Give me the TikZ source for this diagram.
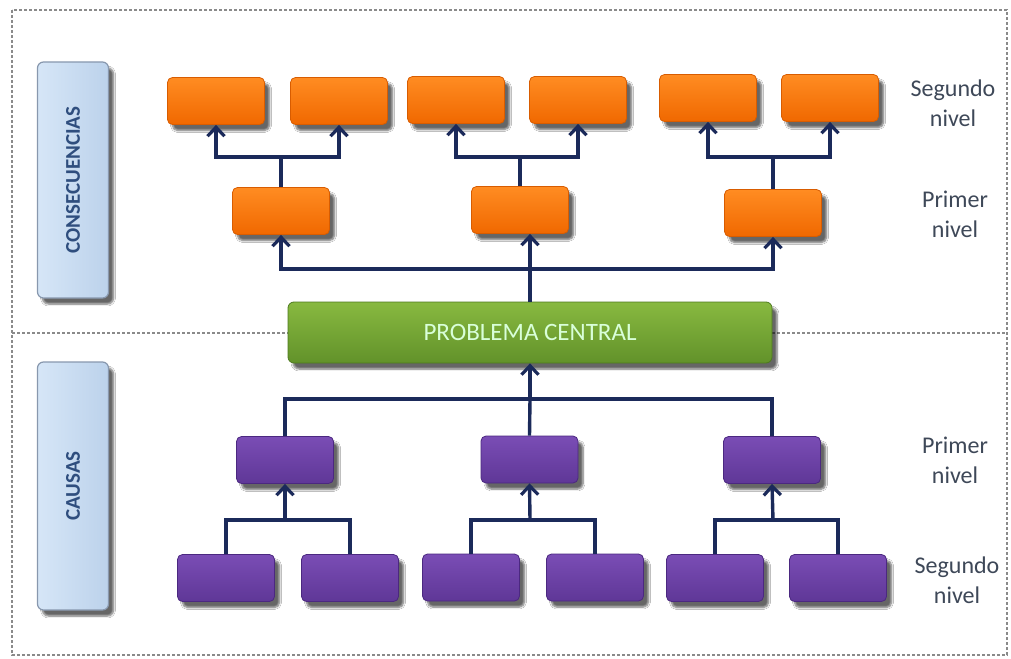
\documentclass[tikz,border=0pt]{standalone}
\usepackage{fontspec}
\setmainfont{Carlito}
\usetikzlibrary{arrows.meta,shadows.blur}

\definecolor{navy}{HTML}{1B2A5A}
\definecolor{orangeT}{HTML}{FF8C22}
\definecolor{orangeB}{HTML}{F06800}
\definecolor{orangeE}{HTML}{D85C00}
\definecolor{purpleT}{HTML}{7A4DB5}
\definecolor{purpleB}{HTML}{5F3797}
\definecolor{purpleE}{HTML}{4B2880}
\definecolor{greenT}{HTML}{88B940}
\definecolor{greenB}{HTML}{62922A}
\definecolor{greenE}{HTML}{4D7A1E}
\definecolor{sideT}{HTML}{D6E6F7}
\definecolor{sideB}{HTML}{BCD2EB}
\definecolor{sideE}{HTML}{8898AE}
\definecolor{sideTxt}{HTML}{2F4E7E}
\definecolor{lblTxt}{HTML}{3E4858}
\definecolor{frameC}{HTML}{8A8A8A}

\tikzset{
  shade/.style={blur shadow={shadow xshift=5pt,shadow yshift=-6pt,shadow blur steps=6,shadow opacity=60}},
  box/.style={rounded corners=5pt,minimum width=97pt,minimum height=47pt,inner sep=0pt,line width=0.8pt,shade},
  consbox/.style={box,top color=orangeT,bottom color=orangeB,draw=orangeE},
  causebox/.style={box,top color=purpleT,bottom color=purpleB,draw=purpleE},
  centralbox/.style={rounded corners=6pt,minimum width=484pt,minimum height=61pt,inner sep=0pt,
    top color=greenT,bottom color=greenB,draw=greenE,line width=0.8pt,shade,
    text=white!85!green,font=\fontsize{25}{28}\selectfont},
  sidebox/.style={rounded corners=6pt,minimum width=71pt,inner sep=0pt,
    left color=sideT,right color=sideB,draw=sideE,line width=1.2pt,shade},
  sidetext/.style={rotate=90,text=sideTxt,font=\bfseries\fontsize{21}{24}\selectfont},
  lvl/.style={align=center,text=lblTxt,font=\fontsize{24}{30}\selectfont},
  link/.style={draw=navy,line width=3.4pt},
  arrow/.style={link,-{Straight Barb[length=9pt,width=17pt,line width=3.2pt]}},
  frame/.style={draw=frameC,line width=1.5pt,dash pattern=on 3pt off 2pt}
}

\begin{document}
\begin{tikzpicture}[x=1pt,y=-1pt]
  \useasboundingbox (0,0) rectangle (1011,658);
  \fill[white] (0,0) rectangle (1011,658);

  % outer frame and the divider between consequences and causes
  \draw[frame] (12,10) rectangle (1007,655);
  \draw[frame] (12,333) -- (1007,333);

  % side captions
  \node[sidebox,minimum height=236pt] (sideC) at (73,180) {};
  \node[sidetext] (sideCt) at (sideC) {CONSECUENCIAS};
  \node[sidebox,minimum height=248pt] (sideK) at (73,486) {};
  \node[sidetext] (sideKt) at (sideK) {CAUSAS};

  % central problem
  \node[centralbox] (pc) at (530,332.5) {PROBLEMA CENTRAL};

  % consequences, second level
  \node[consbox] (s1) at (216,101) {};
  \node[consbox] (s2) at (339,101) {};
  \node[consbox] (s3) at (456,100) {};
  \node[consbox] (s4) at (578,100) {};
  \node[consbox] (s5) at (708,98) {};
  \node[consbox] (s6) at (830,98) {};

  % consequences, first level
  \node[consbox] (p1) at (281,211) {};
  \node[consbox] (p2) at (520,210) {};
  \node[consbox] (p3) at (773,213) {};

  % causes, first level
  \node[causebox] (q1) at (285,460) {};
  \node[causebox] (q2) at (529.5,459.5) {};
  \node[causebox] (q3) at (772,460) {};

  % causes, second level
  \node[causebox] (b1) at (226,578) {};
  \node[causebox] (b2) at (350,578) {};
  \node[causebox] (b3) at (471,577.5) {};
  \node[causebox] (b4) at (595,577.5) {};
  \node[causebox] (b5) at (715,578) {};
  \node[causebox] (b6) at (838,578) {};

  % level labels
  \node[lvl] (l1) at (953,103) {Segundo\\nivel};
  \node[lvl] (l2) at (955,214) {Primer\\nivel};
  \node[lvl] (l3) at (955,460) {Primer\\nivel};
  \node[lvl] (l4) at (957,580) {Segundo\\nivel};

  % junction points
  \coordinate (jt1) at (281,157);
  \coordinate (jt2) at (520,157);
  \coordinate (jt3) at (773,157);
  \coordinate (jc) at (530,269);
  \coordinate (jb) at (530,399);
  \coordinate (jq1) at (285,520);
  \coordinate (jq2) at (530,520);
  \coordinate (jq3) at (773,520);

  % consequence tree
  \draw[link] (p1.north) -- (jt1);
  \draw[arrow] (jt1) -| (s1.south);
  \draw[arrow] (jt1) -| (s2.south);
  \draw[link] (p2.north) -- (jt2);
  \draw[arrow] (jt2) -| (s3.south);
  \draw[arrow] (jt2) -| (s4.south);
  \draw[link] (p3.north) -- (jt3);
  \draw[arrow] (jt3) -| (s5.south);
  \draw[arrow] (jt3) -| (s6.south);

  \draw[arrow] (pc.north) -- (pc.north |- p2.south);
  \draw[arrow] (jc) -| (p1.south);
  \draw[arrow] (jc) -| (p3.south);

  % cause tree
  \draw[link] (q1.north) |- (jb) -| (q3.north);
  \draw[link] (q2.north) -- (jb);
  \draw[arrow] (jb) -- (pc.south);

  \draw[link] (b1.north) |- (jq1) -| (b2.north);
  \draw[arrow] (jq1) -- (q1.south);
  \draw[link] (b3.north) |- (jq2) -| (b4.north);
  \draw[arrow] (jq2) -- (q2.south);
  \draw[link] (b5.north) |- (jq3) -| (b6.north);
  \draw[arrow] (jq3) -- (q3.south);
\end{tikzpicture}
\end{document}
